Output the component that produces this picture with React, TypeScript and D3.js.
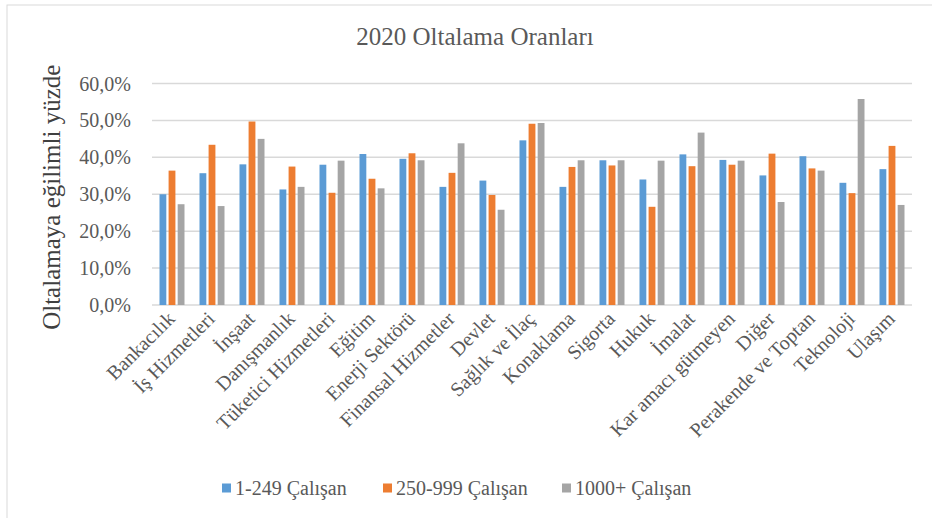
import * as d3 from "d3";

const categories = [
  "Bankacılık",
  "İş Hizmetleri",
  "İnşaat",
  "Danışmanlık",
  "Tüketici Hizmetleri",
  "Eğitim",
  "Enerji Sektörü",
  "Finansal Hizmetler",
  "Devlet",
  "Sağlık ve İlaç",
  "Konaklama",
  "Sigorta",
  "Hukuk",
  "İmalat",
  "Kar amacı gütmeyen",
  "Diğer",
  "Perakende ve Toptan",
  "Teknoloji",
  "Ulaşım",
];

const small = [30.0, 35.7, 38.1, 31.3, 38.0, 40.9, 39.6, 32.0, 33.7, 44.6, 32.0, 39.2, 34.0, 40.8, 39.3, 35.1, 40.3, 33.1, 36.8];
const medium = [36.4, 43.4, 49.7, 37.5, 30.4, 34.2, 41.1, 35.8, 29.8, 49.1, 37.4, 37.8, 26.6, 37.6, 38.0, 41.0, 37.0, 30.3, 43.1];
const large = [27.3, 26.8, 45.0, 32.0, 39.1, 31.6, 39.2, 43.8, 25.8, 49.3, 39.2, 39.2, 39.1, 46.7, 39.1, 27.9, 36.4, 55.8, 27.1];

const seriesNames = ["1-249 Çalışan", "250-999 Çalışan", "1000+ Çalışan"];
const seriesValues = [small, medium, large];
const colors = ["#5B9BD5", "#ED7D31", "#A5A5A5"];
const yTicks = [0, 10, 20, 30, 40, 50, 60];

const W = 932;
const H = 518;
const serif = "'Liberation Serif', 'Times New Roman', serif";
const textColor = "#595959";
const ts = { fontFamily: serif };

export default function App() {
  const x0 = d3
    .scaleBand<string>()
    .domain(categories)
    .range([152, 912])
    .paddingInner(0.375)
    .paddingOuter(0.1875);
  const x1 = d3
    .scaleBand<string>()
    .domain(seriesNames)
    .range([0, x0.bandwidth()])
    .paddingInner(0.25);
  const y = d3.scaleLinear().domain([0, 60]).range([305, 83.5]);
  const fmt = (v: number) => v.toFixed(1).replace(".", ",") + "%";

  const legendX = [222, 383, 562];

  return (
    <svg
      width={W}
      height={H}
      style={{ position: "absolute", left: 0, top: 0, background: "#fff" }}
    >
      <rect x={7} y={5} width={W + 10} height={H + 10} fill="#fff" stroke="#D9D9D9" />
      <text x={475} y={45} textAnchor="middle" fontSize={25} fill={textColor} style={ts}>
        2020 Oltalama Oranları
      </text>

      {yTicks.map((t) => (
        <g key={t}>
          <line x1={152} x2={912} y1={y(t)} y2={y(t)} stroke="#D9D9D9" strokeWidth={1.5} />
          <text x={131} y={y(t)} dy="0.35em" textAnchor="end" fontSize={20} fill={textColor} style={ts}>
            {fmt(t)}
          </text>
        </g>
      ))}

      <text
        transform={`translate(60,${(y(0) + y(60)) / 2 + 3}) rotate(-90)`}
        textAnchor="middle"
        fontSize={25}
        fill="#404040"
        style={ts}
      >
        Oltalamaya eğilimli yüzde
      </text>

      {categories.map((c, i) => (
        <g key={c} transform={`translate(${x0(c)},0)`}>
          {seriesNames.map((s, j) => {
            const v = seriesValues[j][i];
            return (
              <rect
                key={s}
                x={x1(s)}
                y={y(v)}
                width={x1.bandwidth()}
                height={y(0) - y(v)}
                fill={colors[j]}
              />
            );
          })}
        </g>
      ))}

      {categories.map((c) => {
        const cx = (x0(c) ?? 0) + x0.bandwidth() / 2 + 4;
        return (
          <text
            key={c}
            transform={`translate(${cx},${320}) rotate(-45)`}
            textAnchor="end"
            fontSize={20}
            fill={textColor}
            style={ts}
          >
            {c}
          </text>
        );
      })}

      {seriesNames.map((s, j) => (
        <g key={s} transform={`translate(${legendX[j]},488)`}>
          <rect x={0} y={-4.5} width={9} height={9} fill={colors[j]} />
          <text x={13} y={0} dy="0.35em" fontSize={20} fill={textColor} style={ts}>
            {s}
          </text>
        </g>
      ))}
    </svg>
  );
}
